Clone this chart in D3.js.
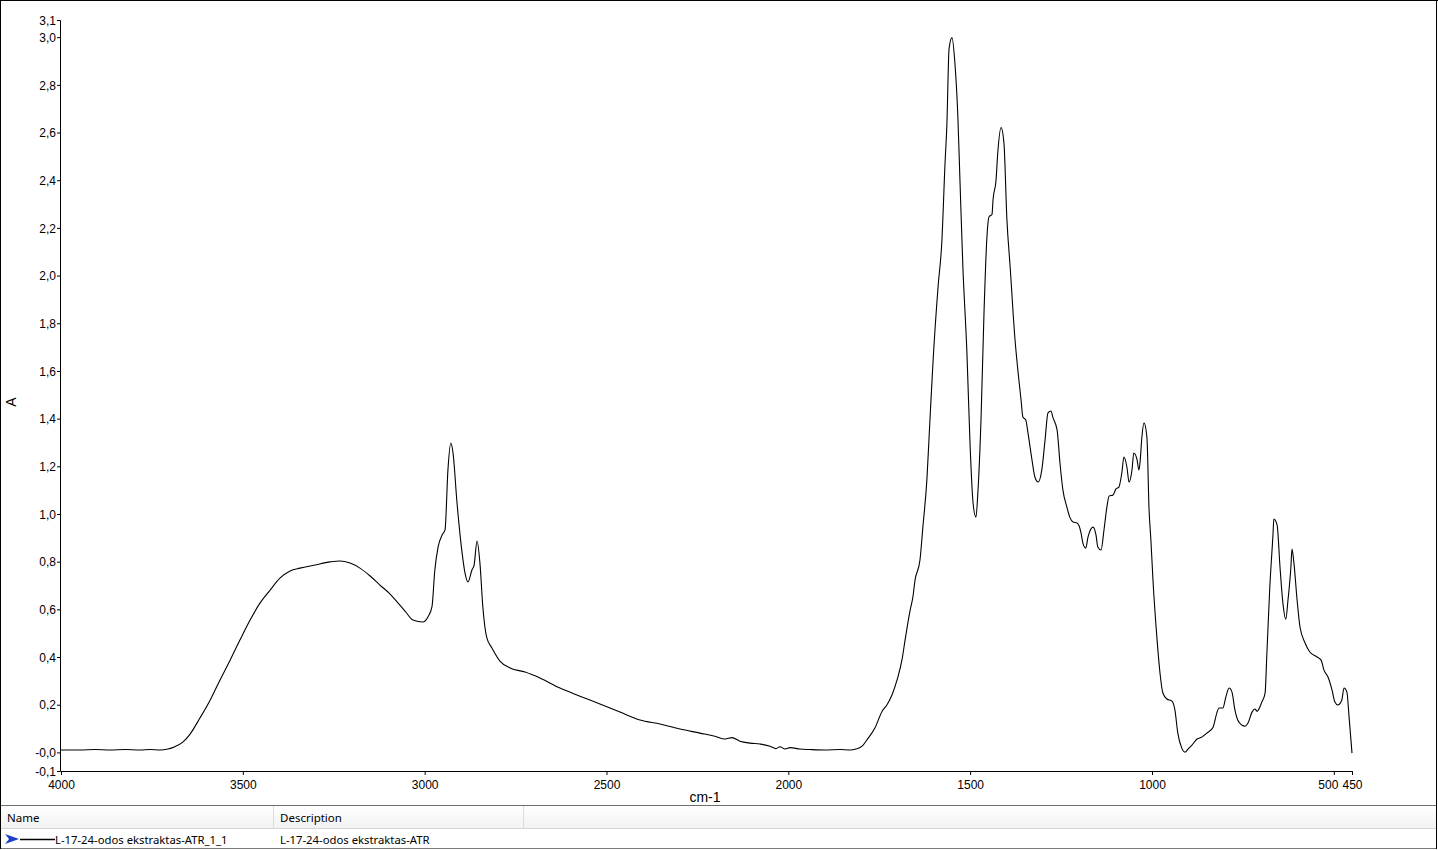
<!DOCTYPE html>
<html>
<head>
<meta charset="utf-8">
<script src="https://cdn.jsdelivr.net/npm/d3@7"></script>
<style>
  html, body { margin: 0; padding: 0; background: #fff; }
  svg { display: block; font-family: "Liberation Sans", Arial, sans-serif; }
</style>
</head>
<body>
<svg id="chart" width="1438" height="850"></svg>
<script>
// wavenumbers (cm-1) and absorbance
var wavenumber = [4000,3948,3907,3865,3824,3783,3755,3728,3706,3687,3665,3645,3618,3590,3563,3535,3508,3480,3453,3425,
  3398,3370,3343,3302,3260,3233,3205,3178,3150,3123,3095,3076,3054,3032,3005,2991,2980,2972,2963,2952,
  2944,2936,2928,2922,2911,2897,2889,2881,2870,2864,2856,2848,2840,2829,2815,2793,2765,2724,2683,2628,
  2573,2518,2463,2408,2353,2298,2243,2202,2174,2155,2133,2105,2078,2050,2034,2023,2009,1995,1968,1941,
  1899,1858,1830,1814,1797,1784,1762,1742,1729,1715,1701,1687,1679,1665,1657,1652,1638,1630,1619,1611,
  1602,1588,1578,1569,1564,1558,1550,1542,1534,1528,1520,1509,1500,1492,1484,1479,1470,1462,1454,1448,
  1440,1437,1429,1424,1415,1407,1399,1390,1377,1366,1360,1355,1347,1341,1330,1322,1313,1303,1294,1286,
  1278,1272,1261,1253,1245,1234,1226,1217,1206,1195,1190,1182,1176,1162,1154,1149,1140,1132,1124,1118,
  1107,1099,1091,1083,1077,1069,1063,1055,1050,1041,1036,1033,1028,1022,1014,1008,1003,997,986,978,
  970,959,945,937,929,918,909,901,890,876,863,849,832,821,816,805,797,788,780,772,
  761,744,736,725,717,711,698,689,684,676,667,665,656,648,640,632,626,618,615,610,
  601,593,579,566,546,535,527,516,505,497,489,478,472,464,458,450];
var absorbance = [0.010,0.010,0.012,0.010,0.012,0.010,0.012,0.010,0.014,0.024,0.043,0.077,0.144,0.219,0.303,0.387,0.471,0.555,0.626,0.681,
  0.731,0.761,0.773,0.786,0.799,0.803,0.794,0.773,0.740,0.702,0.664,0.631,0.593,0.555,0.547,0.568,0.610,0.765,0.862,0.912,
  0.933,1.185,1.298,1.256,1.046,0.836,0.752,0.715,0.765,0.786,0.887,0.794,0.610,0.480,0.438,0.383,0.354,0.337,0.312,0.270,
  0.236,0.203,0.169,0.136,0.119,0.098,0.081,0.068,0.056,0.062,0.047,0.039,0.035,0.026,0.016,0.024,0.014,0.020,0.014,0.012,
  0.010,0.012,0.010,0.014,0.026,0.052,0.102,0.173,0.199,0.241,0.304,0.392,0.471,0.597,0.656,0.719,0.807,0.945,1.143,1.382,
  1.642,1.957,2.138,2.474,2.633,2.952,2.998,2.893,2.675,2.398,2.036,1.680,1.281,1.046,0.987,1.084,1.403,1.840,2.159,2.247,
  2.256,2.319,2.398,2.516,2.621,2.554,2.237,2.036,1.738,1.562,1.478,1.407,1.394,1.340,1.227,1.155,1.134,1.185,1.311,1.424,
  1.432,1.403,1.353,1.214,1.101,1.029,0.987,0.966,0.962,0.920,0.878,0.857,0.903,0.945,0.912,0.862,0.849,0.933,1.029,1.075,
  1.080,1.105,1.113,1.172,1.239,1.197,1.134,1.185,1.256,1.227,1.185,1.214,1.319,1.382,1.323,1.017,0.891,0.715,0.472,0.333,
  0.249,0.224,0.215,0.178,0.081,0.018,0.001,0.014,0.031,0.056,0.064,0.081,0.106,0.169,0.186,0.186,0.232,0.270,0.253,0.178,
  0.127,0.110,0.123,0.169,0.182,0.173,0.211,0.249,0.417,0.694,0.921,0.979,0.954,0.778,0.626,0.559,0.639,0.778,0.853,0.799,
  0.639,0.526,0.459,0.421,0.400,0.387,0.345,0.316,0.262,0.211,0.199,0.220,0.270,0.253,0.148,-0.003];

var xTickVals = [4000, 3500, 3000, 2500, 2000, 1500, 1000, 500, 450];
var yTickVals = [-0.078, 0, 0.2, 0.4, 0.6, 0.8, 1.0, 1.2, 1.4, 1.6, 1.8, 2.0, 2.2, 2.4, 2.6, 2.8, 3.0, 3.072];
var yTickLabels = ["-0,1", "-0,0", "0,2", "0,4", "0,6", "0,8", "1,0", "1,2", "1,4", "1,6", "1,8", "2,0",
  "2,2", "2,4", "2,6", "2,8", "3,0", "3,1"];

var seriesName = "L-17-24-odos ekstraktas-ATR_1_1";
var seriesDesc = "L-17-24-odos ekstraktas-ATR";

var svg = d3.select("#chart");

var x = d3.scaleLinear().domain([4000, 450]).range([61, 1352]);
var y = d3.scaleLinear().domain([-0.078, 3.072]).range([771, 20]);

// axes
var gx = svg.append("g")
    .attr("transform", "translate(0,771)")
    .call(d3.axisBottom(x).tickValues(xTickVals).tickSizeOuter(0).tickSize(4).tickFormat(d3.format("d")));
var gy = svg.append("g")
    .attr("transform", "translate(60,0)")
    .call(d3.axisLeft(y).tickValues(yTickVals).tickSizeOuter(0).tickSize(3)
      .tickFormat(function (d, i) { return yTickLabels[i]; }));

[gx, gy].forEach(function (g) {
  g.selectAll("text").style("font-size", "12px").attr("fill", "#000");
  g.selectAll("line").attr("stroke", "#000");
  g.select(".domain").attr("stroke", "#000");
});
gx.selectAll("text").attr("dy", "0.95em");
// the 500 label is pushed left so it does not run into 450
gx.selectAll("text").filter(function (d) { return d === 500; }).attr("x", -6);
gy.selectAll("text").attr("x", -4).attr("dy", "0.35em");

// axis titles
svg.append("text")
    .attr("x", 705).attr("y", 802)
    .attr("text-anchor", "middle")
    .style("font-size", "14px")
    .text("cm-1");
svg.append("text")
    .attr("transform", "translate(16,402) rotate(-90)")
    .attr("text-anchor", "middle")
    .style("font-size", "14px")
    .text("A");

// spectrum
var pts = wavenumber.map(function (w, i) { return [w, absorbance[i]]; });
var line = d3.line()
    .x(function (d) { return x(d[0]); })
    .y(function (d) { return y(d[1]); })
    .curve(d3.curveMonotoneX);
svg.append("path")
    .datum(pts)
    .attr("d", line)
    .attr("fill", "none")
    .attr("stroke", "#000")
    .attr("stroke-width", 1.1);

// legend grid at the bottom
var defs = svg.append("defs");
var grad = defs.append("linearGradient").attr("id", "hdr").attr("x1", 0).attr("y1", 0).attr("x2", 0).attr("y2", 1);
grad.append("stop").attr("offset", "0%").attr("stop-color", "#ffffff");
grad.append("stop").attr("offset", "100%").attr("stop-color", "#f1f2f4");

svg.append("rect").attr("x", 1).attr("y", 806).attr("width", 1435).attr("height", 22).attr("fill", "url(#hdr)");
svg.append("line").attr("x1", 0).attr("x2", 1437).attr("y1", 805.5).attr("y2", 805.5).attr("stroke", "#6e6e6e");
svg.append("line").attr("x1", 0).attr("x2", 1437).attr("y1", 828.5).attr("y2", 828.5).attr("stroke", "#d5d5d5");
[273.5, 523.5].forEach(function (cx) {
  svg.append("line").attr("x1", cx).attr("x2", cx).attr("y1", 806).attr("y2", 828).attr("stroke", "#dcdcdc");
});
svg.append("line").attr("x1", 0).attr("x2", 1437).attr("y1", 848.5).attr("y2", 848.5).attr("stroke", "#7a7a7a");

var hdrFont = "'Noto Sans', 'Open Sans', sans-serif";
svg.append("text").attr("x", 7).attr("y", 822).style("font-size", "11.5px").style("font-family", hdrFont).text("Name");
svg.append("text").attr("x", 280).attr("y", 822).style("font-size", "11.5px").style("font-family", hdrFont).text("Description");

// legend row
svg.append("path")
    .attr("d", "M5,834 L19,839 L5,844 L9,839 Z")
    .attr("fill", "#1c3fc8");
svg.append("line").attr("x1", 20).attr("x2", 55).attr("y1", 839.5).attr("y2", 839.5).attr("stroke", "#000").attr("stroke-width", 1.5);
svg.append("text").attr("x", 55).attr("y", 844).style("font-size", "11.3px").style("font-family", hdrFont).text(seriesName);
svg.append("text").attr("x", 280).attr("y", 844).style("font-size", "11.3px").style("font-family", hdrFont).text(seriesDesc);

// outer frame
svg.append("line").attr("x1", 0).attr("x2", 1438).attr("y1", 0.5).attr("y2", 0.5).attr("stroke", "#000");
svg.append("line").attr("x1", 0.5).attr("x2", 0.5).attr("y1", 0).attr("y2", 849).attr("stroke", "#000");
svg.append("line").attr("x1", 1436.5).attr("x2", 1436.5).attr("y1", 0).attr("y2", 849).attr("stroke", "#000");
</script>
</body>
</html>
